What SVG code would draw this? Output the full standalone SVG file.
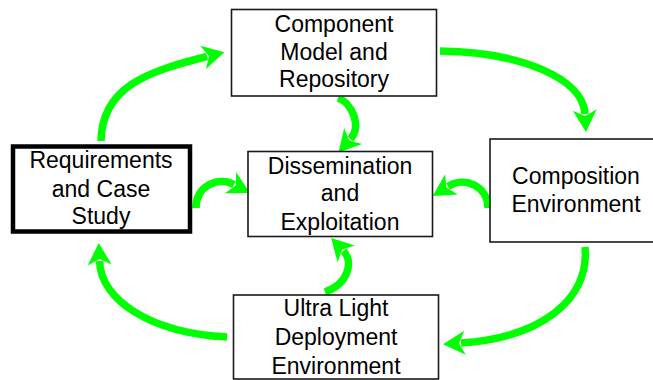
<svg xmlns="http://www.w3.org/2000/svg" width="653" height="380" viewBox="0 0 653 380">
  <defs>
    <style>
      .box { fill: #ffffff; stroke: #1a1a1a; stroke-width: 1.6; }
      .thick { fill: #ffffff; stroke: #000000; stroke-width: 4.5; }
      .lbl { font-family: "Liberation Sans", Arial, sans-serif; font-size: 23px; fill: #000000; text-anchor: middle; }
      .arr { fill: none; stroke: #00ff00; stroke-width: 7.5; marker-end: url(#head); }
    </style>
    <marker id="head" markerUnits="userSpaceOnUse" markerWidth="40" markerHeight="40" refX="4" refY="0" orient="auto" viewBox="-5 -20 40 40" overflow="visible">
      <path d="M22,0 L0,-12 L6,0 L0,12 Z" fill="#00ff00"/>
    </marker>
  </defs>
  <rect width="653" height="380" fill="#ffffff"/>

  <g id="connectors">
    <path class="arr" d="M101,141 C102,88 145,72 207,56.5"/>
    <path class="arr" d="M440,51 C520,52 583,78 585,114"/>
    <path class="arr" d="M585,247 C590,300 540,338 461,343"/>
    <path class="arr" d="M227,337 C150,333 101,300 99.5,261"/>
    <path class="arr" d="M338,98 C352,103 362,126 350.5,139"/>
    <path class="arr" d="M325,292 C348,284 354,262 343.5,251"/>
    <path class="arr" d="M196,208 C196,186 218,176 234,184.5"/>
    <path class="arr" d="M488,208 C488,186 465,176 448,186.5"/>
  </g>

  <g id="node-component">
    <rect class="box" x="231.5" y="9.5" width="205" height="86.5"/>
    <text class="lbl" x="334" y="32">Component</text>
    <text class="lbl" x="334" y="59.5">Model and</text>
    <text class="lbl" x="334" y="87">Repository</text>
  </g>

  <g id="node-requirements">
    <rect class="thick" x="13" y="146.5" width="177" height="85"/>
    <text class="lbl" x="101" y="167.5">Requirements</text>
    <text class="lbl" x="101" y="196.5">and Case</text>
    <text class="lbl" x="101" y="223.5">Study</text>
  </g>

  <g id="node-dissemination">
    <rect class="box" x="248" y="151.5" width="184.5" height="85"/>
    <text class="lbl" x="340" y="173.5">Dissemination</text>
    <text class="lbl" x="340" y="201">and</text>
    <text class="lbl" x="340" y="230">Exploitation</text>
  </g>

  <g id="node-composition">
    <rect class="box" x="490" y="139" width="172" height="103"/>
    <text class="lbl" x="576" y="184">Composition</text>
    <text class="lbl" x="576" y="212">Environment</text>
  </g>

  <g id="node-ultralight">
    <rect class="box" x="233.5" y="295" width="205" height="84"/>
    <text class="lbl" x="336" y="316">Ultra Light</text>
    <text class="lbl" x="336" y="345">Deployment</text>
    <text class="lbl" x="336" y="373.5">Environment</text>
  </g>
</svg>
